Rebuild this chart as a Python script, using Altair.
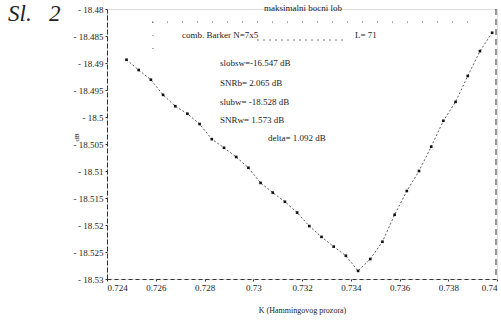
import altair as alt
import pandas as pd

# K values (Hamming window parameter) and max sidelobe level (dB)
k_values = [0.7248, 0.7253, 0.7258, 0.7263, 0.7268, 0.7273, 0.7278, 0.7283,
            0.7288, 0.7293, 0.7298, 0.7303, 0.7308, 0.7313, 0.7318, 0.7323,
            0.7328, 0.7333, 0.7338, 0.7343, 0.7348, 0.7353, 0.7358, 0.7363,
            0.7368, 0.7373, 0.7378, 0.7383, 0.7388, 0.7393, 0.7398]
lobe_db = [-18.4894, -18.4913, -18.4931, -18.4959, -18.4980, -18.4994, -18.5013,
           -18.5041, -18.5057, -18.5074, -18.5094, -18.5122, -18.5140, -18.5157,
           -18.5177, -18.5202, -18.5222, -18.5240, -18.5257, -18.5285, -18.5263,
           -18.5231, -18.5181, -18.5137, -18.5100, -18.5055, -18.5007, -18.4972,
           -18.4924, -18.4878, -18.4844]

x_ticks = [0.724, 0.726, 0.728, 0.73, 0.732, 0.734, 0.736, 0.738, 0.74]
y_ticks = [-18.48, -18.485, -18.49, -18.495, -18.5, -18.505, -18.51,
           -18.515, -18.52, -18.525, -18.53]

title_text = "maksimalni bocni lob"
legend_text = "comb. Barker N=7x5"
length_text = "L= 71"
stat_lines = ["slobsw=-16.547 dB", "SNRb= 2.065 dB", "slubw= -18.528 dB", "SNRw= 1.573 dB"]
delta_text = "delta= 1.092 dB"
fig_label = "Sl.\u2002 2"

df = pd.DataFrame({"K": k_values, "dB": lobe_db})

FONT = "Liberation Serif"
INK = "#222222"

xs = alt.X("K:Q", scale=alt.Scale(domain=[0.724, 0.74], nice=False, zero=False),
           axis=alt.Axis(values=x_ticks, format=".3~f", title="K (Hammingovog prozora)",
                         titlePadding=14, titleFontSize=8, titleFontWeight="normal",
                         titleFont=FONT, titleColor=INK,
                         labelFont=FONT, labelFontSize=9, labelColor=INK,
                         domainDash=[4, 3], domainColor="#333", tickSize=2,
                         tickColor="#333", labelPadding=2, grid=False))
ys = alt.Y("dB:Q", scale=alt.Scale(domain=[-18.53, -18.48], nice=False, zero=False),
           axis=alt.Axis(values=y_ticks, labelExpr="'- ' + format(-datum.value, '.3~f')",
                         title="dB", titleAngle=270, titleX=-28, titleY=128,
                         titleFontSize=7, titleFontWeight="normal", titleFont=FONT,
                         titleColor=INK, labelFont=FONT, labelFontSize=9,
                         labelColor=INK, domainDash=[5, 2], domainColor="#333",
                         tickSize=2, tickColor="#333", labelPadding=2, grid=False))

base = alt.Chart(df)
line = base.mark_line(color="#333", strokeWidth=0.8, strokeDash=[2, 2]).encode(x=xs, y=ys)
pts = base.mark_square(color="#111", size=7, opacity=1).encode(x=xs, y=ys)

def txt(t, x, y, size=9, align="left", **kw):
    return alt.Chart(pd.DataFrame({"t": [t]})).mark_text(
        font=FONT, fontSize=size, color=INK, align=align, baseline="middle", **kw
    ).encode(text="t:N", x=alt.value(x), y=alt.value(y))

texts = [
    txt(title_text, 196, -1, size=9, align="center"),
    txt(legend_text, 75, 26, size=9),
    txt(length_text, 248, 26, size=9),
    txt(stat_lines[0], 113, 54, size=9),
    txt(stat_lines[1], 113, 74, size=9),
    txt(stat_lines[2], 113, 93, size=9),
    txt(stat_lines[3], 113, 111, size=9),
    txt(delta_text, 161, 129, size=9),
    txt(fig_label, -99, 5, size=23, fontStyle="italic"),
]

frame_right = alt.Chart(pd.DataFrame({"a": [0]})).mark_rule(
    color="#333", strokeDash=[6, 4], strokeWidth=1).encode(
    x=alt.value(389), y=alt.value(0), y2=alt.value(270))
dotted_top = alt.Chart(pd.DataFrame({"a": [0]})).mark_rule(
    color="#555", strokeDash=[1, 14], strokeWidth=1).encode(
    x=alt.value(45), x2=alt.value(365), y=alt.value(13))
dotted_leg = alt.Chart(pd.DataFrame({"a": [0]})).mark_rule(
    color="#555", strokeDash=[2, 4], strokeWidth=0.8).encode(
    x=alt.value(150), x2=alt.value(240), y=alt.value(31))
top_dot = alt.Chart(pd.DataFrame({"a": [0]})).mark_rule(
    color="#555", strokeDash=[1, 12], strokeWidth=1).encode(
    x=alt.value(46), y=alt.value(13), y2=alt.value(40))

chart = alt.layer(frame_right, dotted_top, dotted_leg, top_dot, line, pts, *texts).properties(
    width=390, height=270, autosize="none",
    padding={"left": 107, "top": 9, "right": 4, "bottom": 41},
).configure_view(stroke=None).configure(background="white")

chart.save("out.html", embed_options={"renderer": "svg", "actions": False})
